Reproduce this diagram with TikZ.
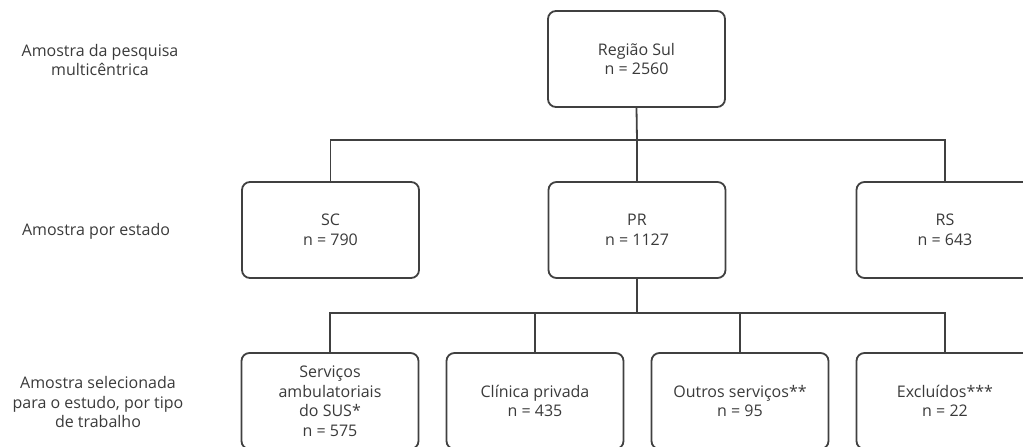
\documentclass[tikz,border=0pt]{standalone}
\usepackage{fontspec}
\setmainfont{Open Sans}
\definecolor{ink}{HTML}{404040}
\definecolor{txt}{HTML}{3A3A3A}
\begin{document}
\begin{tikzpicture}[x=1pt,y=-1pt,
  box/.style={draw=ink, line width=1.8pt, rounded corners=8pt, minimum width=177pt, minimum height=96pt, align=center, text=txt, font=\fontsize{16}{19.5}\selectfont, inner sep=2pt},
  lbl/.style={align=center, text=txt, font=\fontsize{16}{19.5}\selectfont},
  link/.style={draw=ink, line width=1.8pt}]
\useasboundingbox (0,0) rectangle (1023,447);
\clip (0,0) rectangle (1023,447);
\node[lbl] (l1) at (100,60) {Amostra da pesquisa\\multicêntrica};
\node[lbl] (l2) at (96,231) {Amostra por estado};
\node[lbl] (l3) at (98,402) {Amostra selecionada\\para o estudo, por tipo\\de trabalho};
\node[box] (top) at (636.5,59) {Região Sul\\n = 2560};
\node[box] (sc) at (330.5,230) {SC\\n = 790};
\node[box] (pr) at (637,230) {PR\\n = 1127};
\node[box] (rs) at (945,230) {RS\\n = 643};
\node[box] (b1) at (330,401) {Serviços\\ambulatoriais\\do SUS*\\n = 575};
\node[box] (b2) at (535,401) {Clínica privada\\n = 435};
\node[box] (b3) at (740,401) {Outros serviços**\\n = 95};
\node[box] (b4) at (945,401) {Excluídos***\\n = 22};
\coordinate (j1) at (637,140);
\coordinate (j2) at (637,313);
\draw[link] (top.south) -- (j1);
\draw[link] (sc.north) |- (j1) -| (rs.north);
\draw[link] (pr.north) -- (j1);
\draw[link] (pr.south) -- (j2);
\draw[link] (b1.north) |- (j2) -| (b4.north);
\draw[link] (b2.north) -- (b2.north |- j2);
\draw[link] (b3.north) -- (b3.north |- j2);
\end{tikzpicture}
\end{document}
